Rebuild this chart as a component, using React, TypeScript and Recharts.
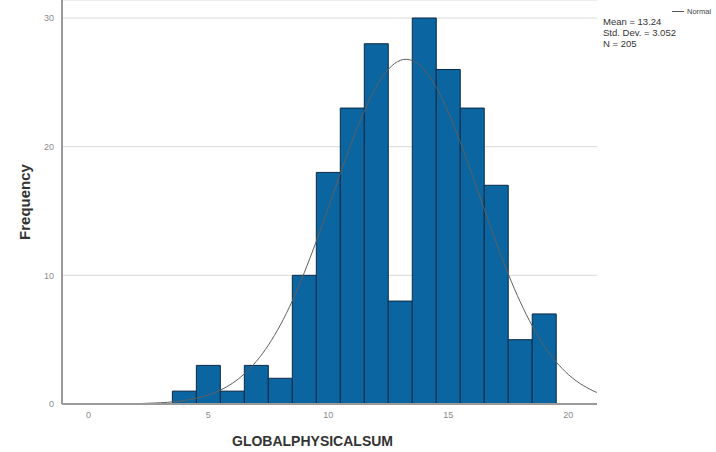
import { Bar, CartesianGrid, ComposedChart, Label, Line, XAxis, YAxis } from "recharts"

// histogram bins (centre of each bin, width 1)
const binCenters = [4, 5, 6, 7, 8, 9, 10, 11, 12, 13, 14, 15, 16, 17, 18, 19]
const binCounts = [1, 3, 1, 3, 2, 10, 18, 23, 28, 8, 30, 26, 23, 17, 5, 7]

// normal curve
const curveX = [
  -1, 0, 1, 2, 3, 3.5, 4, 4.5, 5, 5.5, 6, 6.5, 7, 7.5, 8, 8.5, 9, 9.5, 10, 10.5, 11, 11.5, 12, 12.5, 13,
  13.5, 14, 14.5, 15, 15.5, 16, 16.5, 17, 17.5, 18, 18.5, 19, 19.5, 20, 20.5, 21, 21.2,
]
const curveY = [
  0.0005, 0.002, 0.009, 0.03, 0.096, 0.165, 0.274, 0.444, 0.7, 1.075, 1.607, 2.34, 3.315, 4.568, 6.135,
  8.02, 10.21, 12.65, 15.25, 17.9, 20.47, 22.77, 24.67, 26.01, 26.71, 26.69, 25.97, 24.6, 22.69, 20.37,
  17.8, 15.14, 12.54, 10.11, 7.94, 6.07, 4.51, 3.27, 2.3, 1.58, 1.06, 0.9,
]

const xTicks = [0, 5, 10, 15, 20]
const yTicks = [0, 10, 20, 30]
const statsLines = ["Mean = 13.24", "Std. Dev. = 3.052", "N = 205"]
const xDomain: [number, number] = [-1.1, 21.2]

export default function App() {
  const bins = binCenters.map((x, i) => ({ x, count: binCounts[i] }))
  const curve = curveX.map((x, i) => ({ x, y: curveY[i] }))

  return (
    <div
      style={{
        position: "absolute",
        left: 0,
        top: 0,
        width: 716,
        height: 452,
        background: "#fff",
        fontFamily: "'Liberation Sans', Arial, sans-serif",
      }}
    >
      <ComposedChart
        width={716}
        height={452}
        data={bins}
        margin={{ top: 0, right: 119, bottom: 0, left: 0 }}
        barCategoryGap={0}
        barGap={0}
      >
        <CartesianGrid vertical={false} stroke="#d9d9d9" />
        <XAxis
          dataKey="x"
          type="number"
          domain={xDomain}
          ticks={xTicks}
          allowDataOverflow
          height={48}
          tickLine={false}
          stroke="#9a9a9a"
          strokeWidth={2}
          tick={{ fill: "#8a8a8a", fontSize: 9 }}
        >
          <Label
            value="GLOBALPHYSICALSUM"
            position="insideBottom"
            offset={6}
            dx={-17}
            style={{ fontSize: 14, fontWeight: "bold", fill: "#333" }}
          />
        </XAxis>
        {/* separate hidden axis so the fine curve points don't shrink the bars */}
        <XAxis xAxisId="curve" dataKey="x" type="number" domain={xDomain} allowDataOverflow hide />
        <YAxis
          type="number"
          domain={[0, 31.4]}
          ticks={yTicks}
          allowDataOverflow
          width={62}
          tickLine={false}
          stroke="#9a9a9a"
          strokeWidth={2}
          tick={{ fill: "#8a8a8a", fontSize: 9 }}
        >
          <Label
            value="Frequency"
            angle={-90}
            position="insideLeft"
            offset={25}
            style={{ textAnchor: "middle", fontSize: 15, fontWeight: "bold", fill: "#333" }}
          />
        </YAxis>
        <Bar dataKey="count" fill="#0b65a0" stroke="#0b2a45" strokeWidth={1} isAnimationActive={false} />
        <Line
          xAxisId="curve"
          data={curve}
          dataKey="y"
          type="natural"
          stroke="#5f5f5f"
          strokeWidth={1}
          dot={false}
          isAnimationActive={false}
        />
      </ComposedChart>
      <div
        style={{
          position: "absolute",
          left: 672,
          top: 7,
          display: "flex",
          alignItems: "center",
          fontSize: 7.5,
          color: "#444",
          whiteSpace: "nowrap",
        }}
      >
        <div style={{ width: 12, height: 1, background: "#555", marginRight: 3 }} />
        <span>Normal</span>
      </div>
      <div
        style={{
          position: "absolute",
          left: 603,
          top: 16,
          fontSize: 9.5,
          lineHeight: "11px",
          color: "#333",
          whiteSpace: "nowrap",
        }}
      >
        {statsLines.map((s) => (
          <div key={s}>{s}</div>
        ))}
      </div>
    </div>
  )
}
